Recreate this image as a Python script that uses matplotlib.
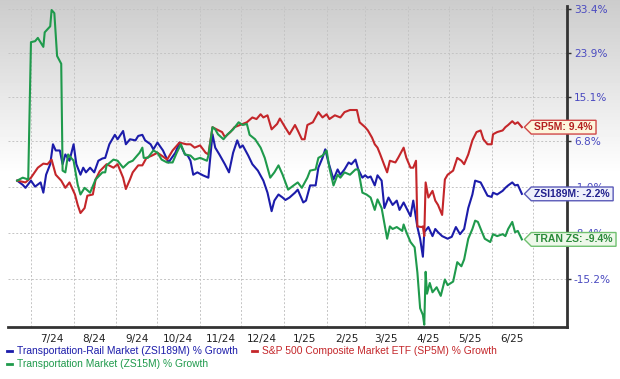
import numpy as np
import pandas as pd
import matplotlib
matplotlib.use("Agg")
import matplotlib.pyplot as plt
from matplotlib.path import Path
from matplotlib.lines import Line2D

# --- data (% growth) ---
rail_dates = [
    "2024-06-21", "2024-06-25", "2024-06-27", "2024-07-01", "2024-07-04", "2024-07-08",
    "2024-07-10", "2024-07-12", "2024-07-15", "2024-07-17", "2024-07-19", "2024-07-22",
    "2024-07-24", "2024-07-26", "2024-07-29", "2024-08-01", "2024-08-03", "2024-08-06",
    "2024-08-08", "2024-08-10", "2024-08-13", "2024-08-16", "2024-08-19", "2024-08-22",
    "2024-08-24", "2024-08-27", "2024-08-31", "2024-09-02", "2024-09-06", "2024-09-08",
    "2024-09-11", "2024-09-15", "2024-09-17", "2024-09-20", "2024-09-22", "2024-09-26",
    "2024-09-28", "2024-10-01", "2024-10-05", "2024-10-09", "2024-10-14", "2024-10-17",
    "2024-10-21", "2024-10-23", "2024-10-25", "2024-10-27", "2024-10-30", "2024-11-03",
    "2024-11-07", "2024-11-10", "2024-11-12", "2024-11-15", "2024-11-19", "2024-11-22",
    "2024-11-25", "2024-11-28", "2024-11-30", "2024-12-02", "2024-12-06", "2024-12-09",
    "2024-12-13", "2024-12-17", "2024-12-20", "2024-12-23", "2024-12-25", "2024-12-28",
    "2024-12-31", "2025-01-02", "2025-01-05", "2025-01-09", "2025-01-11", "2025-01-15",
    "2025-01-17", "2025-01-20", "2025-01-24", "2025-01-26", "2025-01-29", "2025-01-31",
    "2025-02-02", "2025-02-06", "2025-02-09", "2025-02-11", "2025-02-14", "2025-02-17",
    "2025-02-19", "2025-02-22", "2025-02-24", "2025-02-27", "2025-03-01", "2025-03-03",
    "2025-03-05", "2025-03-08", "2025-03-10", "2025-03-13", "2025-03-15", "2025-03-18",
    "2025-03-21", "2025-03-24", "2025-03-26", "2025-03-29", "2025-03-31", "2025-04-03",
    "2025-04-05", "2025-04-08", "2025-04-10", "2025-04-12", "2025-04-13", "2025-04-16",
    "2025-04-19", "2025-04-21", "2025-04-23", "2025-04-26", "2025-04-30", "2025-05-03",
    "2025-05-06", "2025-05-09", "2025-05-12", "2025-05-15", "2025-05-18", "2025-05-20",
    "2025-05-24", "2025-05-26", "2025-05-29", "2025-06-01", "2025-06-02", "2025-06-05",
    "2025-06-09", "2025-06-11", "2025-06-13", "2025-06-16", "2025-06-18", "2025-06-20",
    "2025-06-23",
]
rail_vals = [
    0.0, -0.7, -1.2, 0.0, -1.0, -0.3,
    -2.0, 1.0, 2.8, 6.3, 5.2, 5.2,
    2.8, 4.5, 3.4, 6.3, 2.8, 1.0,
    2.2, 1.4, 2.2, 1.4, 3.4, 3.8,
    3.9, 6.3, 8.0, 7.2, 8.7, 6.3,
    7.2, 7.0, 7.8, 8.0, 7.0, 6.3,
    5.4, 6.6, 5.2, 3.1, 4.8, 6.6,
    4.5, 4.3, 3.4, 1.0, 1.4, 0.9,
    0.5, 8.1, 5.7, 4.5, 2.8, 1.4,
    4.8, 7.0, 5.7, 6.1, 4.3, 2.8,
    1.7, 0.0, -2.0, -5.0, -3.3, -2.3,
    -2.8, -3.2, -2.8, -2.0, -1.5, -3.6,
    -3.3, -0.8, -0.8, 2.2, 3.9, 5.4,
    3.4, 0.2, 1.9, 1.0, 1.9, 3.1,
    2.8, 3.6, 1.9, 0.5, 0.9, 0.5,
    0.7, -0.8, 0.9, 0.0, -4.5, -2.8,
    -4.0, -3.3, -4.8, -3.6, -4.5, -5.8,
    -3.3, -7.5, -9.3, -12.0, -8.3, -7.5,
    -8.9, -7.8, -8.3, -8.9, -9.3, -9.0,
    -7.5, -8.6, -7.8, -4.5, -2.3, 0.0,
    -0.3, -1.2, -2.5, -2.7, -2.0, -2.3,
    -1.7, -1.2, -0.8, -0.3, -0.8, -0.7,
    -2.2,
]

sp5m_dates = [
    "2024-06-21", "2024-06-27", "2024-07-01", "2024-07-06", "2024-07-10", "2024-07-13",
    "2024-07-16", "2024-07-19", "2024-07-23", "2024-07-26", "2024-07-29", "2024-08-02",
    "2024-08-04", "2024-08-06", "2024-08-09", "2024-08-11", "2024-08-15", "2024-08-17",
    "2024-08-20", "2024-08-25", "2024-08-30", "2024-09-02", "2024-09-06", "2024-09-08",
    "2024-09-11", "2024-09-13", "2024-09-17", "2024-09-20", "2024-09-23", "2024-09-27",
    "2024-10-01", "2024-10-04", "2024-10-08", "2024-10-12", "2024-10-17", "2024-10-22",
    "2024-10-25", "2024-10-28", "2024-11-01", "2024-11-05", "2024-11-07", "2024-11-10",
    "2024-11-13", "2024-11-17", "2024-11-19", "2024-11-23", "2024-11-26", "2024-11-30",
    "2024-12-05", "2024-12-09", "2024-12-12", "2024-12-15", "2024-12-17", "2024-12-20",
    "2024-12-23", "2024-12-27", "2024-12-29", "2025-01-02", "2025-01-05", "2025-01-09",
    "2025-01-11", "2025-01-14", "2025-01-16", "2025-01-18", "2025-01-22", "2025-01-26",
    "2025-01-29", "2025-02-01", "2025-02-03", "2025-02-07", "2025-02-11", "2025-02-14",
    "2025-02-18", "2025-02-23", "2025-02-25", "2025-03-01", "2025-03-03", "2025-03-06",
    "2025-03-08", "2025-03-10", "2025-03-12", "2025-03-15", "2025-03-17", "2025-03-19",
    "2025-03-23", "2025-03-25", "2025-03-29", "2025-03-31", "2025-04-03", "2025-04-05",
    "2025-04-07", "2025-04-08", "2025-04-11", "2025-04-12", "2025-04-13", "2025-04-14",
    "2025-04-16", "2025-04-19", "2025-04-21", "2025-04-23", "2025-04-26", "2025-04-28",
    "2025-04-30", "2025-05-04", "2025-05-07", "2025-05-10", "2025-05-12", "2025-05-15",
    "2025-05-18", "2025-05-21", "2025-05-24", "2025-05-26", "2025-05-29", "2025-06-01",
    "2025-06-02", "2025-06-05", "2025-06-09", "2025-06-11", "2025-06-13", "2025-06-16",
    "2025-06-18", "2025-06-20", "2025-06-23",
]
sp5m_vals = [
    0.0, -0.3, 0.5, 2.2, 2.9, 2.8,
    3.6, 1.0, 0.0, -1.2, -0.3, -2.3,
    -4.0, -5.3, -4.5, -2.5, -2.3, 0.2,
    1.6, 2.8, 2.2, 2.8, 0.5, -1.4,
    0.2, 1.4, 2.6, 2.6, 3.9, 4.3,
    4.8, 4.3, 3.6, 5.2, 6.6, 6.3,
    6.3, 5.7, 6.1, 4.8, 4.5, 9.4,
    9.0, 8.5, 7.6, 8.5, 9.4, 9.8,
    10.3, 11.2, 10.9, 11.8, 11.2, 11.6,
    9.0, 10.0, 11.0, 9.3, 8.1, 9.8,
    8.8, 7.2, 7.2, 9.8, 10.3, 12.2,
    11.2, 11.8, 10.9, 11.6, 11.2, 12.2,
    12.6, 12.6, 10.3, 9.4, 8.8, 7.5,
    6.3, 5.7, 4.5, 2.6, 1.4, 3.4,
    3.1, 3.9, 5.7, 3.9, 2.2, 2.2,
    3.4, -7.4, -7.5, -7.4, -8.9, -0.3,
    -2.8, -1.7, -3.3, -4.0, -5.6, 0.2,
    1.0, 1.7, 3.9, 3.4, 2.8, 4.5,
    7.0, 8.5, 8.8, 7.2, 6.3, 6.3,
    8.1, 8.5, 8.8, 9.4, 9.8, 10.5,
    10.0, 10.3, 9.4,
]

tran_dates = [
    "2024-06-21", "2024-06-25", "2024-06-29", "2024-07-01", "2024-07-04", "2024-07-06",
    "2024-07-10", "2024-07-11", "2024-07-15", "2024-07-16", "2024-07-18", "2024-07-20",
    "2024-07-23", "2024-07-24", "2024-07-26", "2024-07-28", "2024-08-01", "2024-08-04",
    "2024-08-06", "2024-08-09", "2024-08-13", "2024-08-17", "2024-08-22", "2024-08-24",
    "2024-08-25", "2024-08-30", "2024-09-02", "2024-09-06", "2024-09-10", "2024-09-13",
    "2024-09-18", "2024-09-20", "2024-09-21", "2024-09-24", "2024-09-28", "2024-10-01",
    "2024-10-04", "2024-10-08", "2024-10-12", "2024-10-15", "2024-10-18", "2024-10-21",
    "2024-10-25", "2024-10-28", "2024-11-01", "2024-11-06", "2024-11-07", "2024-11-10",
    "2024-11-12", "2024-11-14", "2024-11-18", "2024-11-21", "2024-11-25", "2024-11-29",
    "2024-12-02", "2024-12-05", "2024-12-07", "2024-12-11", "2024-12-15", "2024-12-18",
    "2024-12-22", "2024-12-25", "2024-12-28", "2024-12-31", "2025-01-04", "2025-01-08",
    "2025-01-11", "2025-01-14", "2025-01-18", "2025-01-20", "2025-01-24", "2025-01-26",
    "2025-01-29", "2025-02-01", "2025-02-03", "2025-02-06", "2025-02-09", "2025-02-11",
    "2025-02-14", "2025-02-18", "2025-02-22", "2025-02-24", "2025-02-27", "2025-03-02",
    "2025-03-05", "2025-03-08", "2025-03-10", "2025-03-13", "2025-03-17", "2025-03-19",
    "2025-03-21", "2025-03-24", "2025-03-28", "2025-03-29", "2025-03-31", "2025-04-03",
    "2025-04-06", "2025-04-08", "2025-04-10", "2025-04-12", "2025-04-13", "2025-04-14",
    "2025-04-15", "2025-04-17", "2025-04-19", "2025-04-22", "2025-04-25", "2025-04-28",
    "2025-04-30", "2025-05-04", "2025-05-07", "2025-05-10", "2025-05-12", "2025-05-15",
    "2025-05-18", "2025-05-20", "2025-05-22", "2025-05-25", "2025-05-27", "2025-05-31",
    "2025-06-02", "2025-06-05", "2025-06-09", "2025-06-11", "2025-06-13", "2025-06-16",
    "2025-06-18", "2025-06-20", "2025-06-23",
]
tran_vals = [
    0.0, 0.5, 0.2, 26.2, 26.4, 27.1,
    25.2, 28.3, 29.6, 33.2, 32.5, 23.3,
    21.7, 1.7, 1.4, 4.5, 3.4, -0.7,
    -2.3, -1.2, -2.0, 0.2, 1.4, 1.4,
    2.6, 3.6, 3.4, 2.2, 3.1, 3.4,
    4.8, 5.7, 3.9, 3.9, 5.2, 4.8,
    3.6, 3.1, 3.1, 4.8, 6.3, 4.5,
    4.3, 3.6, 3.9, 3.4, 4.3, 9.4,
    9.0, 8.1, 7.2, 8.1, 9.0, 10.3,
    9.8, 10.0, 8.0, 7.2, 5.7, 3.9,
    0.5, 1.4, 2.6, 1.0, -1.5, -0.8,
    -0.3, -1.2, 0.5, 1.7, 1.9, 3.9,
    4.3, 5.2, 2.2, -0.8, 1.0, 0.5,
    1.4, 1.0, 1.9, 1.9, -2.0, -2.3,
    -2.8, -4.8, -3.1, -4.5, -9.3, -7.4,
    -7.8, -7.5, -8.1, -7.1, -8.3, -9.8,
    -10.6, -14.3, -19.3, -20.2, -21.5, -14.2,
    -17.3, -15.8, -17.1, -16.4, -17.6, -15.3,
    -16.1, -15.6, -12.8, -13.4, -12.4, -9.3,
    -7.8, -6.5, -6.7, -8.3, -9.3, -9.8,
    -8.6, -8.9, -8.6, -8.9, -7.8, -6.7,
    -8.3, -8.1, -9.4,
]

ytick_vals = [33.4, 23.9, 15.1, 6.8, -1.0, -8.4, -15.2]
month_labels = ["7/24", "8/24", "9/24", "10/24", "11/24", "12/24",
                "1/25", "2/25", "3/25", "4/25", "5/25", "6/25"]

c_rail = "#1c1caa"
c_sp = "#c4262a"
c_tran = "#1f9a4c"

fig = plt.figure(figsize=(6.2, 3.79), dpi=100)

# grey-to-white background gradient
bg = fig.add_axes([0, 0, 1, 1], zorder=-10)
grad = np.concatenate([np.linspace(0.80, 1.0, 175), np.ones(204)])
bg.imshow(grad[:, None], cmap="gray", vmin=0, vmax=1, aspect="auto",
          extent=[0, 1, 0, 1])
bg.axis("off")

ax = fig.add_axes([8 / 620, 52 / 379, 559 / 620, 321 / 379])
ax.patch.set_alpha(0)

ax.set_yscale("function", functions=(lambda g: np.log1p(np.asarray(g) / 100.0),
                                     lambda t: np.expm1(np.asarray(t)) * 100.0))

series = [
    ("Transportation-Rail Market (ZSI189M) % Growth", rail_dates, rail_vals, c_rail),
    ("S&P 500 Composite Market ETF (SP5M) % Growth", sp5m_dates, sp5m_vals, c_sp),
    ("Transportation Market (ZS15M) % Growth", tran_dates, tran_vals, c_tran),
]
for name, d, v, c in series:
    ax.plot(pd.to_datetime(d), v, color=c, lw=1.5, solid_joinstyle="round")

start = pd.Timestamp("2024-07-01")
ax.set_xlim(start - pd.Timedelta(days=16.7), start + pd.Timedelta(days=389.8))
ax.set_ylim(-21.8, 34.1)

# gridlines at month starts, labels mid-month
month_starts = pd.date_range("2024-07-01", "2025-07-01", freq="MS")
ax.set_xticks(month_starts)
ax.set_xticklabels([])
ax.set_xticks(month_starts[:-1] + pd.Timedelta(days=15), minor=True)
ax.set_xticklabels(month_labels, minor=True)
ax.tick_params(axis="x", which="both", length=0, labelsize=7.6, colors="#222222", pad=5)

ax.yaxis.tick_right()
ax.set_yticks(ytick_vals)
ax.set_yticklabels([f"{v:.1f}%" for v in ytick_vals])
ax.yaxis.set_minor_locator(matplotlib.ticker.NullLocator())
ax.tick_params(axis="y", length=3, width=1, color="#333333", labelsize=7.6,
               labelcolor="#4a4ac0", pad=2)

ax.grid(True, which="major", color="#c4c4c4", linestyle=(0, (2, 2)), lw=0.7)
for s in ["top", "left"]:
    ax.spines[s].set_visible(False)
for s in ["bottom", "right"]:
    ax.spines[s].set_color("#333333")
    ax.spines[s].set_linewidth(2)


def tag_box(x0, y0, width, height, mutation_size):
    pad = 0.3 * mutation_size
    x0, y0 = x0 - pad, y0 - pad * 0.6
    width, height = width + 2 * pad, height + 1.2 * pad
    tip = height * 0.5
    verts = [(x0, y0), (x0 + width, y0), (x0 + width, y0 + height),
             (x0, y0 + height), (x0 - tip, y0 + height / 2), (x0, y0)]
    codes = [Path.MOVETO] + [Path.LINETO] * 4 + [Path.CLOSEPOLY]
    return Path(verts, codes)


end_tags = [
    ("SP5M", sp5m_dates, sp5m_vals, "#fdf5dc", "#d04848", "#b42020"),
    ("ZSI189M", rail_dates, rail_vals, "#eef0fb", "#5a5ab8", "#22228e"),
    ("TRAN ZS", tran_dates, tran_vals, "#eef8ea", "#70c070", "#2a8a3a"),
]
for lab, d, v, fc, ec, tc in end_tags:
    ax.annotate(f"{lab}: {v[-1]:.1f}%", xy=(pd.Timestamp(d[-1]), v[-1]),
                xytext=(9, 0), textcoords="offset points", ha="left", va="center",
                fontsize=7.5, fontweight="bold", family="Liberation Sans", color=tc,
                bbox=dict(boxstyle=tag_box, fc=fc, ec=ec, lw=1.0),
                annotation_clip=False, zorder=10)

handles = [Line2D([], [], color=c, lw=2) for _, _, _, c in series]
labels = [n for n, _, _, _ in series]
order = [0, 2, 1]
fig.legend([handles[i] for i in order], [labels[i] for i in order],
           loc="upper left", bbox_to_anchor=(0.0, 0.105), ncol=2, frameon=False,
           handlelength=0.5, handletextpad=0.5, columnspacing=1.3,
           labelspacing=0.3, borderpad=0.2,
           prop={"family": "Liberation Sans", "size": 7.4}, labelcolor="linecolor")

fig.savefig("out.png", dpi=100)
